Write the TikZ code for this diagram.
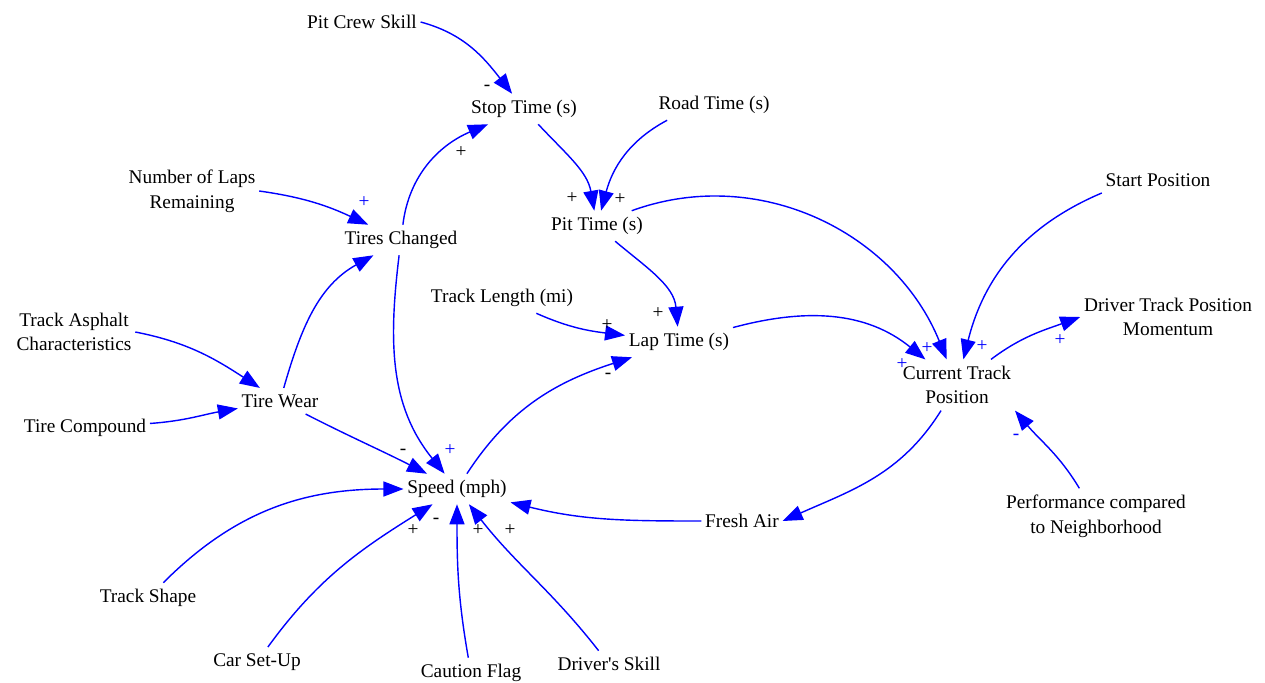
\documentclass[tikz,border=0pt]{standalone}
\usepackage{fontspec}
\setmainfont{Liberation Serif}
\usetikzlibrary{arrows.meta}
\definecolor{linkblue}{RGB}{0,0,255}
\tikzset{
  var/.style={inner xsep=2pt, inner ysep=3.5pt, align=center, font=\fontsize{11}{14}\selectfont},
  lnk/.style={draw=linkblue, line width=0.8pt, -{Triangle[length=4mm,width=3mm]}},
  sgn/.style={inner sep=0pt, font=\fontsize{11}{12}\selectfont},
  sgnblue/.style={sgn, text=linkblue}
}
\newcommand{\drawvar}{\node[var]}
\newcommand{\arrlink}{\draw[lnk]}
\newcommand{\drawsign}{\node[sgn]}
\newcommand{\drawsignblue}{\node[sgnblue]}

\begin{document}
\begin{tikzpicture}[x=0.02cm, y=-0.02cm]
%pit stop causal loop
\useasboundingbox (0,0) rectangle (1265,683);
\drawvar (crew) at (362,22) {Pit Crew Skill};
\drawvar (stop) at (524,109) {Stop Time (s)};
\drawvar (road) at (714,105) {Road Time (s)};
\drawvar (pit) at (597,226) {Pit Time (s)};
\drawvar (laps) at (192,191) {Number of Laps\\Remaining};
\drawvar (tires) at (401,240) {Tires Changed};
\drawvar (tracklen) at (502,298) {Track Length (mi)};
\drawvar (lap) at (679,342) {Lap Time (s)};
\drawvar (start) at (1158,180) {Start Position};
\drawvar (momentum) at (1168,317) {Driver Track Position\\Momentum};
\drawvar (curpos) at (957,385) {Current Track\\Position};
\drawvar (asphalt) at (74,332) {Track Asphalt\\Characteristics};
\drawvar (wear) at (280,401) {Tire Wear};
\drawvar (compound) at (85,428) {Tire Compound};
\drawvar (speed) at (457,489) {Speed (mph)};
\drawvar (fresh) at (742,521) {Fresh Air};
\drawvar (perf) at (1096,516) {Performance compared\\to Neighborhood};
\drawvar (shape) at (148,598) {Track Shape};
\drawvar (setup) at (257,662) {Car Set-Up};
\drawvar (caution) at (471,673) {Caution Flag};
\drawvar (skill) at (609,664) {Driver\textquotesingle s Skill};

\arrlink (crew.east) to[out=-15, in=128] (stop);
\arrlink (tires) to[out=83, in=203] (stop);
\arrlink (stop) to[out=-47, in=100] (pit);
\arrlink ([xshift=0.25cm]road.south west) to[out=208, in=75] (pit);
\arrlink (laps.east) to[out=-8, in=155] (tires);
\arrlink (wear) to[out=74, in=209] (tires);
\arrlink (tires) to[out=263, in=129] (speed);
\arrlink (asphalt.east) to[out=-11, in=147] (wear);
\arrlink (compound) to[out=4, in=190] (wear);
\arrlink (wear) to[out=-27, in=153] (speed);
\arrlink (shape) to[out=45, in=180] (speed);
\arrlink (setup) to[out=54, in=212] (speed);
\arrlink (caution) to[out=100, in=270] (speed);
\arrlink (skill) to[out=128, in=308] (speed);
\arrlink (fresh) to[out=180, in=346] (speed);
\arrlink (speed) to[out=57, in=198] (lap);
\arrlink (tracklen) to[out=-24, in=173] (lap);
\arrlink (pit) to[out=-40, in=95] (lap);
\arrlink ([xshift=-0.3cm]pit.north east) to[out=20, in=112] (curpos);
\arrlink (lap) to[out=15, in=141] (curpos);
\arrlink (start.south west) to[out=203, in=76] (curpos);
\arrlink (curpos) to[out=37, in=200] (momentum.west);
\arrlink (curpos) to[out=238, in=24] (fresh.east);
\arrlink (perf) to[out=121, in=310] (curpos.south east);

\drawsign (sg1) at (487,88) {-};
\drawsign (sg2) at (461,152) {+};
\drawsign (sg3) at (572,198) {+};
\drawsign (sg4) at (620,199) {+};
\drawsignblue (sg5) at (364,202) {+};
\drawsignblue (sg6) at (450,450) {+};
\drawsign (sg7) at (403,452) {-};
\drawsign (sg8) at (607,325) {+};
\drawsign (sg9) at (608,376) {-};
\drawsign (sg10) at (658,313) {+};
\drawsignblue (sg11) at (902,364) {+};
\drawsignblue (sg12) at (927,348) {+};
\drawsignblue (sg13) at (982,346) {+};
\drawsignblue (sg14) at (1060,340) {+};
\drawsignblue (sg15) at (1016,437) {-};
\drawsign (sg16) at (413,530) {+};
\drawsign (sg17) at (436,521) {-};
\drawsign (sg18) at (478,530) {+};
\drawsign (sg19) at (510,530) {+};
\end{tikzpicture}
\end{document}
